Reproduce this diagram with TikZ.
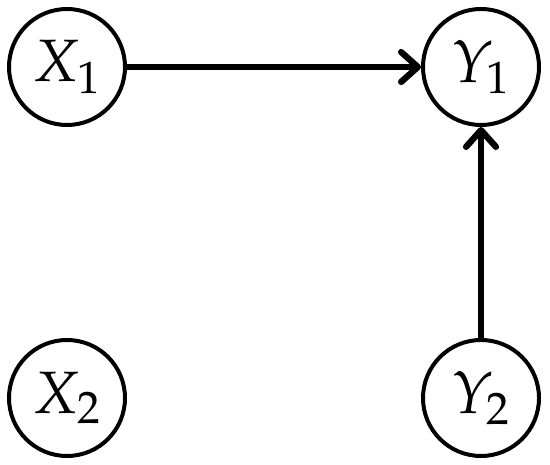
\documentclass[tikz,border=0pt]{standalone}
\usepackage{mathpazo}
\usetikzlibrary{arrows.meta}

\begin{document}
\begin{tikzpicture}

\tikzset{var/.style={draw=black,circle,line width=2.27pt,minimum size=2.32cm,inner sep=0pt,font=\fontsize{34}{40}\selectfont}}
\tikzset{edge/.style={line width=3.6pt,-{Straight Barb[round,length=9.5pt,width=17pt]},line cap=round}}

\useasboundingbox (0,0) rectangle (11,9.3);

\node[var] (X1) at (1.34,7.96) {$X_1$};
\node[var] (Y1) at (9.62,7.96) {$Y_1$};
\node[var] (X2) at (1.34,1.34) {$X_2$};
\node[var] (Y2) at (9.62,1.34) {$Y_2$};

\draw[edge] (X1) -- (Y1);
\draw[edge] (Y2) -- (Y1);

\end{tikzpicture}
\end{document}
